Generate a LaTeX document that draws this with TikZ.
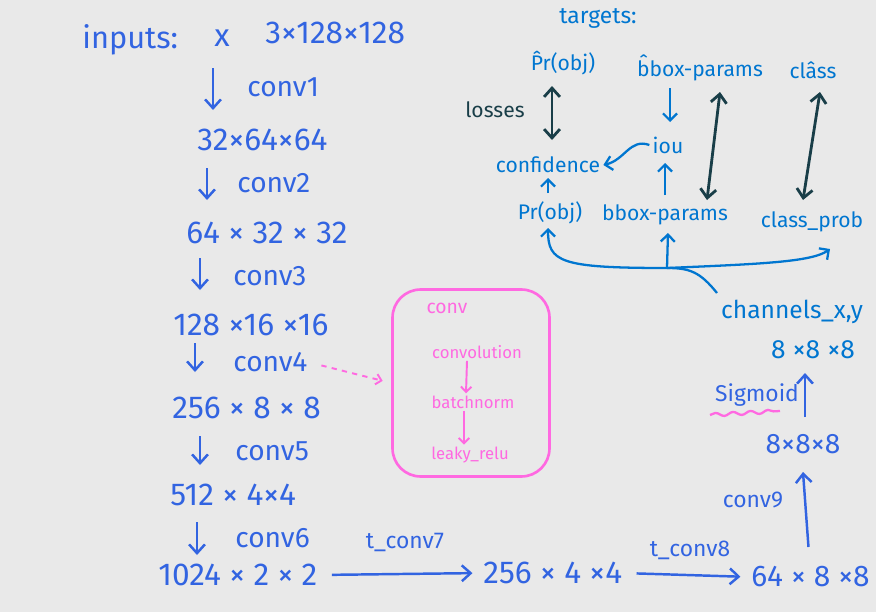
\documentclass[tikz,border=0pt]{standalone}
\usepackage{fontspec}
\setmainfont{Fira Sans}
\usetikzlibrary{arrows.meta,calc,decorations.pathmorphing}
\definecolor{bg}{RGB}{233,233,233}
\definecolor{blueL}{RGB}{50,100,225}
\definecolor{blueR}{RGB}{0,118,208}
\definecolor{darkc}{RGB}{25,62,72}
\definecolor{pinkc}{RGB}{255,105,225}
\begin{document}
\begin{tikzpicture}[x=0.02cm,y=-0.02cm,
  lt/.style={text=blueL, font=\fontsize{16}{18}\selectfont, inner sep=0pt},
  ls/.style={text=blueL, font=\fontsize{18}{20}\selectfont, inner sep=0pt},
  lts/.style={text=blueL, font=\fontsize{13}{15}\selectfont, inner sep=0pt},
  rt/.style={text=blueR, font=\fontsize{12}{14}\selectfont, inner sep=0pt},
  pk/.style={text=pinkc, font=\fontsize{9.5}{11}\selectfont, inner sep=0pt},
  arrL/.style={draw=blueL, line width=1.4pt, -{Straight Barb[length=5pt,width=9pt]}},
  arrB/.style={draw=blueR, line width=1.3pt, -{Straight Barb[length=4pt,width=8pt]}},
  lineB/.style={draw=blueR, line width=1.3pt},
  darr/.style={draw=darkc, line width=1.6pt, {Straight Barb[length=5pt,width=9pt]}-{Straight Barb[length=5pt,width=9pt]}},
  parr/.style={draw=pinkc, line width=1.1pt, -{Straight Barb[length=3pt,width=6pt]}},
  pbox/.style={draw=pinkc, line width=1.5pt, rounded corners=16pt, minimum width=3.14cm, minimum height=3.74cm}
]
\fill[bg] (0,0) rectangle (876,612);
\useasboundingbox (0,0) rectangle (876,612);

% ---- left column ----
\node[lt, font=\fontsize{17.5}{19}\selectfont, anchor=west] (inp) at (82,40) {inputs:};
\node[ls] (xx) at (222,38) {x};
\node[ls, anchor=west] (s0) at (265,33) {3×128×128};
\node[lt, anchor=west] (c1) at (247,87) {conv1};
\node[ls, anchor=west] (s1) at (197,140) {32×64×64};
\node[lt, anchor=west] (c2) at (237,183) {conv2};
\node[ls, anchor=west] (s2) at (186,233) {64 × 32 × 32};
\node[lt, anchor=west] (c3) at (233,276) {conv3};
\node[ls, anchor=west] (s3) at (173,325) {128 ×16 ×16};
\node[lt, anchor=west] (c4) at (233,362) {conv4};
\node[ls, anchor=west] (s4) at (172,408) {256 × 8 × 8};
\node[lt, anchor=west] (c5) at (235,451) {conv5};
\node[ls, anchor=west] (s5) at (170,495) {512 × 4×4};
\node[lt, anchor=west] (c6) at (235,538) {conv6};
\node[ls, anchor=west] (s6) at (158,575) {1024 × 2 × 2};

\draw[arrL] ([shift={(-9,30)}]xx.center) -- ([shift={(16,-30)}]s1.west);
\draw[arrL] ([shift={(10,28)}]s1.west) -- ([shift={(21,-33)}]s2.west);
\draw[arrL] ([shift={(14,25)}]s2.west) -- ([shift={(27,-35)}]s3.west);
\draw[arrL] ([shift={(22,18)}]s3.west) -- ([shift={(23,-36)}]s4.west);
\draw[arrL] ([shift={(28,28)}]s4.west) -- ([shift={(30,-30)}]s5.west);
\draw[arrL] ([shift={(27,27)}]s5.west) -- ([shift={(39,-20)}]s6.west);

% ---- bottom row ----
\node[ls, anchor=west] (s7) at (483,573) {256 × 4 ×4};
\node[lt, font=\fontsize{17}{19}\selectfont, anchor=east] (s8) at (870,577) {64 × 8 ×8};
\node[lts] (t7) at (405,542) {t\_conv7};
\node[lts] (t8) at (690,550) {t\_conv8};
\draw[arrL, shorten <=8pt, shorten >=6pt] (s6.east) -- (s7.west);
\draw[arrL, shorten <=8pt, shorten >=6pt] (s7.east) -- (s8.west);

% ---- right column ----
\node[lts] (c9) at (753,500) {conv9};
\node[lt] (m8) at (803,444) {8×8×8};
\node[lts] (sig) at (757,395) {Sigmoid};
\node[rt, font=\fontsize{15}{17}\selectfont] (t8x) at (813,350) {8 ×8 ×8};
\node[rt, font=\fontsize{14}{16}\selectfont] (ch) at (792,312) {channels\_x,y};
\draw[arrL] ([shift={(-2,-30)}]s8.center) -- ([shift={(0,28)}]m8.center);
\draw[arrL] ([shift={(2,-27)}]m8.center) -- ([shift={(-8,23)}]t8x.center);
\draw[draw=pinkc, line width=1.3pt, decorate, decoration={snake,amplitude=1pt,segment length=10pt}]
  ([shift={(-47,20)}]sig.center) -- ([shift={(23,16)}]sig.center);

% ---- pink conv box ----
\node[pbox] (box) at (471,383) {};
\node[pk, font=\fontsize{11}{13}\selectfont] (pc) at (447,308) {conv};
\node[pk] (pconv) at (477,352) {convolution};
\node[pk] (pbn) at (473,402) {batchnorm};
\node[pk] (plr) at (470,455) {leaky\_relu};
\draw[parr] ([shift={(-10,2)}]pconv.south) -- ([shift={(-7,-2)}]pbn.north);
\draw[parr] ([shift={(-9,2)}]pbn.south) -- ([shift={(-6,-2)}]plr.north);
\draw[parr, dashed, shorten <=8pt, shorten >=5pt] (c4.east) -- (box.west);

% ---- top right: targets / outputs ----
\node[rt, font=\fontsize{13}{15}\selectfont] (tg) at (598,18) {targets:};
\node[rt] (pt) at (563,63) {\^{P}r(obj)};
\node[rt] (bt) at (700,68) {\^{b}box-params};
\node[rt] (ct) at (813,70) {cl\^{a}ss};
\node[rt, text=darkc] (loss) at (495,110) {losses};
\node[rt] (iou) at (668,145) {iou};
\node[rt] (conf) at (548,165) {confidence};
\node[rt] (pb) at (550,213) {Pr(obj)};
\node[rt] (bb) at (665,215) {bbox-params};
\node[rt] (cp) at (812,222) {class\_prob};

\draw[darr] ([shift={(-11,23)}]pt.center) -- ([shift={(4,-25)}]conf.center);
\draw[darr] ([shift={(20,24)}]bt.center) -- ([shift={(42,-15)}]bb.center);
\draw[darr] ([shift={(7,22)}]ct.center) -- ([shift={(-9,-22)}]cp.center);

\draw[arrB] ([shift={(-30,20)}]bt.center) -- ([shift={(2,-23)}]iou.center);
\draw[arrB] ([shift={(0,-20)}]bb.center) -- ([shift={(-3,18)}]iou.center);
\draw[arrB] ([shift={(-2,-20)}]pb.center) -- ([shift={(0,13)}]conf.center);
\draw[arrB] ([shift={(-3,0)}]iou.west) .. controls (630,138) and (625,160) .. ([shift={(3,0)}]conf.east);

\coordinate (hub) at (667,268);
\draw[lineB] ([shift={(-75,-19)}]ch.center) .. controls (700,272) and (690,268) .. (hub);
\draw[arrB] (hub) .. controls (560,268) and (548,262) .. ([shift={(-2,15)}]pb.center);
\draw[arrB] (hub) -- ([shift={(3,18)}]bb.center);
\draw[arrB] (hub) .. controls (760,264) and (812,262) .. ([shift={(18,27)}]cp.center);
\end{tikzpicture}
\end{document}
